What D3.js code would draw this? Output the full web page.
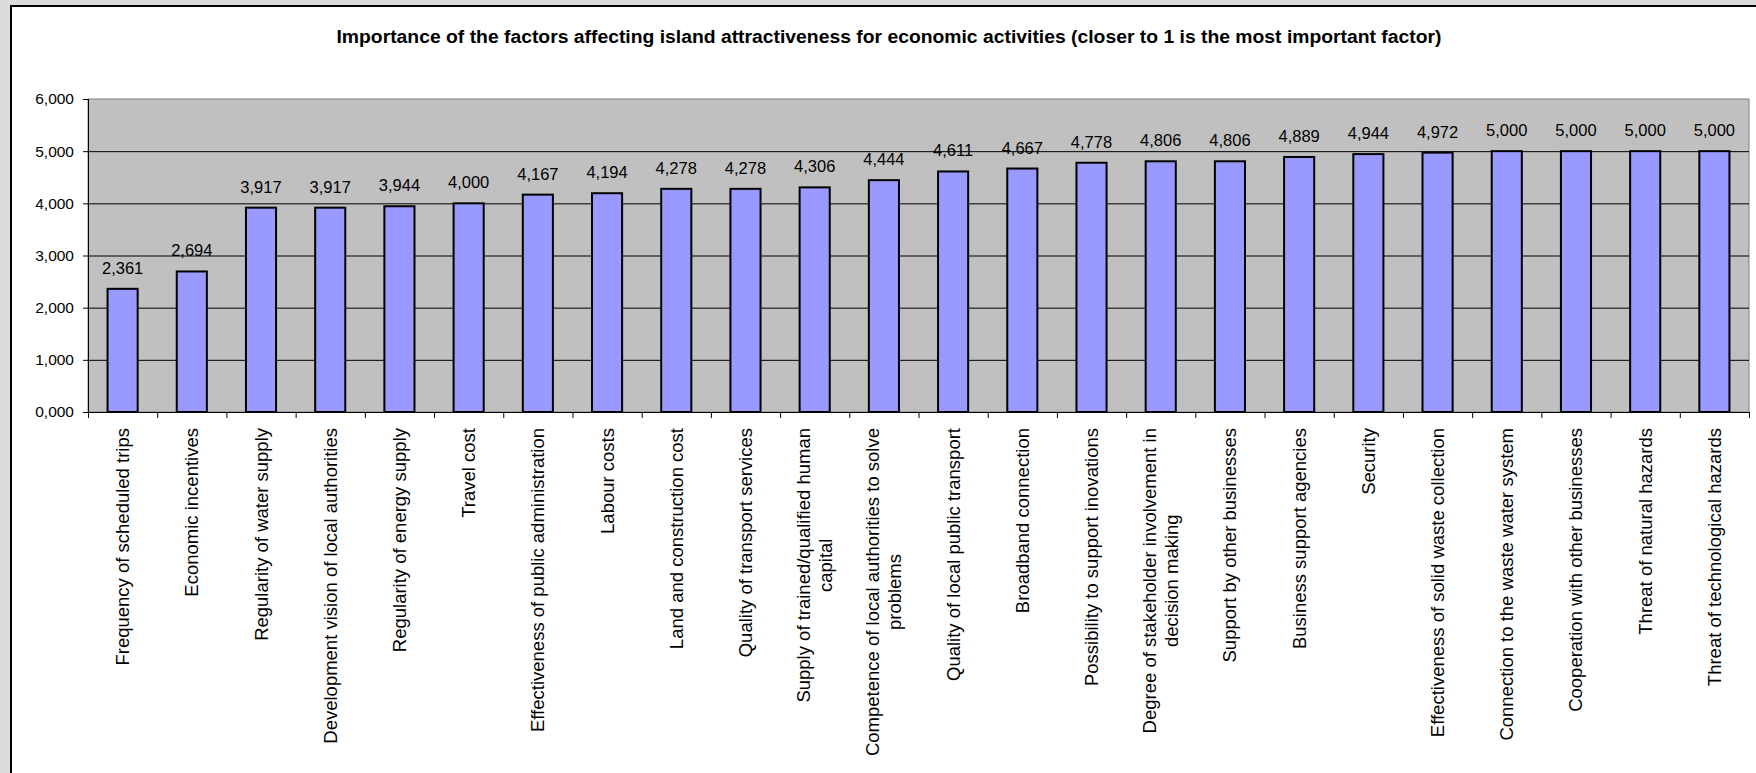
<!DOCTYPE html>
<html>
<head>
<meta charset="utf-8">
<script src="https://cdn.jsdelivr.net/npm/d3@7"></script>
<style>
  body { margin: 0; background: #dcdcdc; }
  svg { display: block; font-family: "Liberation Sans", Arial, sans-serif; }
</style>
</head>
<body>
<div id="chart"></div>
<script>
// chart values
var title = "Importance of the factors affecting island attractiveness for economic activities (closer to 1 is the most important factor)";
var categories = [
  "Frequency of scheduled trips",
  "Economic incentives",
  "Regularity of water supply",
  "Development vision of local authorities",
  "Regularity of energy supply",
  "Travel cost",
  "Effectiveness of public administration",
  "Labour costs",
  "Land and construction cost",
  "Quality of transport services",
  "Supply of trained/qualified human\ncapital",
  "Competence of local authorities to solve\nproblems",
  "Quality of local public transport",
  "Broadband connection",
  "Possibility to support inovations",
  "Degree of stakeholder involvement in\ndecision making",
  "Support by other businesses",
  "Business support agencies",
  "Security",
  "Effectiveness of solid waste collection",
  "Connection to the waste water system",
  "Cooperation with other businesses",
  "Threat of natural hazards",
  "Threat of technological hazards"
];
var values = [2.361, 2.694, 3.917, 3.917, 3.944, 4.000, 4.167, 4.194, 4.278, 4.278, 4.306, 4.444,
              4.611, 4.667, 4.778, 4.806, 4.806, 4.889, 4.944, 4.972, 5.000, 5.000, 5.000, 5.000];
var yTicks = [0, 1, 2, 3, 4, 5, 6];

var width = 1756, height = 773;
var plot = { left: 88, right: 1749, top: 99, bottom: 412 };

// excel style number: 3 decimals, comma as decimal mark
var fmt = function (d) { return d3.format(".3f")(d).replace(".", ","); };

var svg = d3.select("#chart").append("svg")
    .attr("width", width)
    .attr("height", height);

// window frame
svg.append("rect").attr("width", width).attr("height", height).attr("fill", "#dcdcdc");
svg.append("rect")
    .attr("x", 11).attr("y", 6)
    .attr("width", width).attr("height", height)
    .attr("fill", "#fff")
    .attr("stroke", "#000")
    .attr("stroke-width", 2);

svg.append("text")
    .attr("x", 889).attr("y", 43)
    .attr("text-anchor", "middle")
    .attr("font-weight", "bold")
    .attr("font-size", 17.5)
    .attr("textLength", 1105)
    .attr("lengthAdjust", "spacingAndGlyphs")
    .text(title);

var xCat = d3.scaleBand().domain(d3.range(categories.length)).range([plot.left, plot.right]);
var xBar = d3.scaleBand().domain(d3.range(categories.length)).range([plot.left, plot.right])
    .paddingInner(0.565).paddingOuter(0.2825);
var y = d3.scaleLinear().domain([0, 6]).range([plot.bottom, plot.top]);

// plot area
svg.append("rect")
    .attr("x", plot.left).attr("y", plot.top)
    .attr("width", plot.right - plot.left).attr("height", plot.bottom - plot.top)
    .attr("fill", "#c0c0c0")
    .attr("stroke", "#808080")
    .attr("stroke-width", 1);

svg.append("g").selectAll("line")
    .data(yTicks.filter(function (d) { return d > 0 && d < 6; }))
    .enter().append("line")
    .attr("x1", plot.left).attr("x2", plot.right)
    .attr("y1", function (d) { return y(d) + 0.5; })
    .attr("y2", function (d) { return y(d) + 0.5; })
    .attr("stroke", "#000")
    .attr("stroke-width", 1);

// bars
svg.append("g").selectAll("rect")
    .data(values)
    .enter().append("rect")
    .attr("x", function (d, i) { return xBar(i); })
    .attr("y", function (d) { return y(d); })
    .attr("width", xBar.bandwidth())
    .attr("height", function (d) { return y(0) - y(d); })
    .attr("fill", "#9999ff")
    .attr("stroke", "#000")
    .attr("stroke-width", 2);

// value labels
svg.append("g").selectAll("text")
    .data(values)
    .enter().append("text")
    .attr("x", function (d, i) { return xBar(i) + xBar.bandwidth() / 2; })
    .attr("y", function (d) { return y(d) - 15; })
    .attr("text-anchor", "middle")
    .attr("font-size", 16.5)
    .attr("fill", "#000")
    .text(fmt);

// y axis
var yAxis = svg.append("g")
    .attr("transform", "translate(" + plot.left + ",0)")
    .call(d3.axisLeft(y).tickValues(yTicks).tickSize(5).tickPadding(9).tickFormat(fmt));
yAxis.selectAll("text").attr("font-size", 15.5).attr("font-family", "Liberation Sans, Arial, sans-serif").attr("fill", "#000");
yAxis.selectAll("line").attr("stroke", "#000");
yAxis.select(".domain").attr("stroke", "#000").attr("d", "M0.5," + plot.top + "V" + (plot.bottom + 0.5));

// x axis: line and ticks on category boundaries
var xAxis = svg.append("g");
xAxis.append("line")
    .attr("x1", plot.left - 5).attr("x2", plot.right)
    .attr("y1", plot.bottom + 0.5).attr("y2", plot.bottom + 0.5)
    .attr("stroke", "#000");
var bounds = d3.range(categories.length).map(function (i) { return xCat(i); }).concat([plot.right]);
xAxis.selectAll("line.tick")
    .data(bounds)
    .enter().append("line")
    .attr("class", "tick")
    .attr("x1", function (d) { return d + 0.5; })
    .attr("x2", function (d) { return d + 0.5; })
    .attr("y1", plot.bottom)
    .attr("y2", plot.bottom + 6)
    .attr("stroke", "#000");

// rotated category labels, multi-line ones centred line by line
var labelTop = 428, lineGap = 22;
var lab = svg.append("g").selectAll("g")
    .data(categories)
    .enter().append("g")
    .attr("transform", function (d, i) {
        return "translate(" + (xCat(i) + xCat.bandwidth() / 2) + "," + labelTop + ") rotate(-90)";
    });
lab.each(function (d) {
    var g = d3.select(this);
    var lines = d.split("\n");
    var n = lines.length;
    var texts = lines.map(function (t, k) {
        return g.append("text")
            .attr("font-size", 18.5)
            .attr("fill", "#000")
            .attr("text-anchor", "middle")
            .attr("y", (k - (n - 1) / 2) * lineGap)
            .attr("dy", "0.35em")
            .text(t);
    });
    var maxLen = d3.max(texts, function (t) { return t.node().getComputedTextLength(); });
    texts.forEach(function (t) { t.attr("x", -maxLen / 2); });
});
</script>
</body>
</html>
